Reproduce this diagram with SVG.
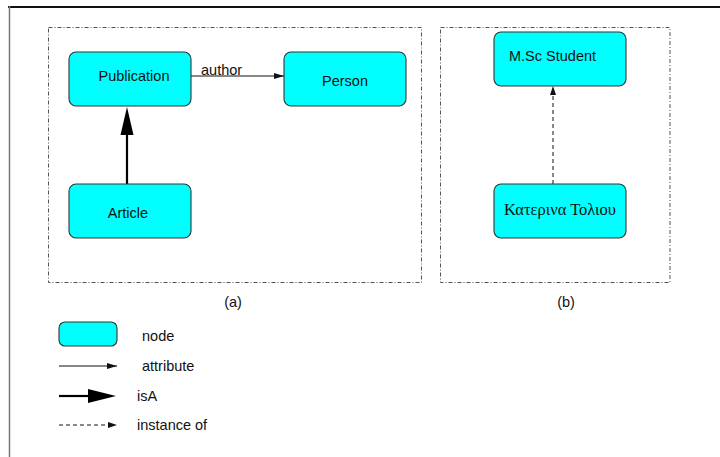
<svg xmlns="http://www.w3.org/2000/svg" width="720" height="457" viewBox="0 0 720 457">
<defs>
<style>
.node rect{fill:#00ffff;stroke:#333;stroke-width:1.1}
.t{font-family:"Liberation Sans",Arial,sans-serif;font-size:14.5px;fill:#111}
.g{font-family:"Liberation Serif","Times New Roman",serif;font-size:16.5px;fill:#111}
.box{fill:none;stroke:#555;stroke-width:1;stroke-dasharray:4,2,1,2}
.attr{stroke:#111;stroke-width:1;fill:none}
.isa{stroke:#000;stroke-width:2.2;fill:none}
.inst{stroke:#111;stroke-width:1;fill:none;stroke-dasharray:4,3}
</style>
<marker id="ah" markerWidth="10" markerHeight="6" refX="10" refY="3" orient="auto" markerUnits="userSpaceOnUse">
<path d="M0,0 L10,3 L0,6 Z" fill="#111"/>
</marker>
</defs>
<rect width="720" height="457" fill="#fff"/>
<line x1="8" y1="7" x2="720" y2="7" stroke="#111" stroke-width="1.8"/>
<line x1="9.5" y1="6" x2="9.5" y2="457" stroke="#777" stroke-width="1.5"/>
<rect class="box" x="48.5" y="27.5" width="373" height="255"/>
<rect class="box" x="440.5" y="27.5" width="229.5" height="255"/>
<g id="connectors">
<line class="attr" x1="191" y1="76" x2="284" y2="76" marker-end="url(#ah)"/>
<line class="isa" x1="127" y1="184" x2="127" y2="130"/>
<path d="M127,107 L120.5,135 L133.5,135 Z" fill="#000"/>
<line class="inst" x1="553" y1="184" x2="553" y2="93"/>
<path d="M553,86 L550,95 L556,95 Z" fill="#111"/>
</g>
<text class="t" x="201" y="75">author</text>
<g id="publication" class="node"><rect x="69" y="52" width="122" height="54" rx="7"/><text class="t" x="134" y="81" text-anchor="middle">Publication</text></g>
<g id="person" class="node"><rect x="284" y="52" width="122" height="54" rx="7"/><text class="t" x="345" y="86" text-anchor="middle">Person</text></g>
<g id="article" class="node"><rect x="69" y="184" width="122" height="54" rx="7"/><text class="t" x="128" y="218" text-anchor="middle">Article</text></g>
<g id="msc" class="node"><rect x="494" y="32" width="132" height="54" rx="7"/><text class="t" x="509" y="61">M.Sc Student</text></g>
<g id="katerina" class="node"><rect x="494" y="184" width="132" height="54" rx="7"/><text class="g" x="560" y="215" text-anchor="middle">Κατερινα Τολιου</text></g>
<text class="t" x="233" y="307" text-anchor="middle">(a)</text>
<text class="t" x="566" y="307" text-anchor="middle">(b)</text>
<g id="legend">
<g id="legend-node" class="node"><rect x="59" y="322" width="58" height="24" rx="6"/></g>
<text class="t" x="142" y="341">node</text>
<line class="attr" x1="59" y1="366" x2="117" y2="366" marker-end="url(#ah)"/>
<text class="t" x="142" y="371">attribute</text>
<line x1="59" y1="396" x2="90" y2="396" stroke="#000" stroke-width="2.2"/>
<path d="M116,396 L88,389 L88,403 Z" fill="#000"/>
<text class="t" x="137" y="401">isA</text>
<line class="inst" x1="59" y1="425" x2="110" y2="425"/>
<path d="M117,425 L108,422 L108,428 Z" fill="#111"/>
<text class="t" x="137" y="430">instance of</text>
</g>
</svg>
